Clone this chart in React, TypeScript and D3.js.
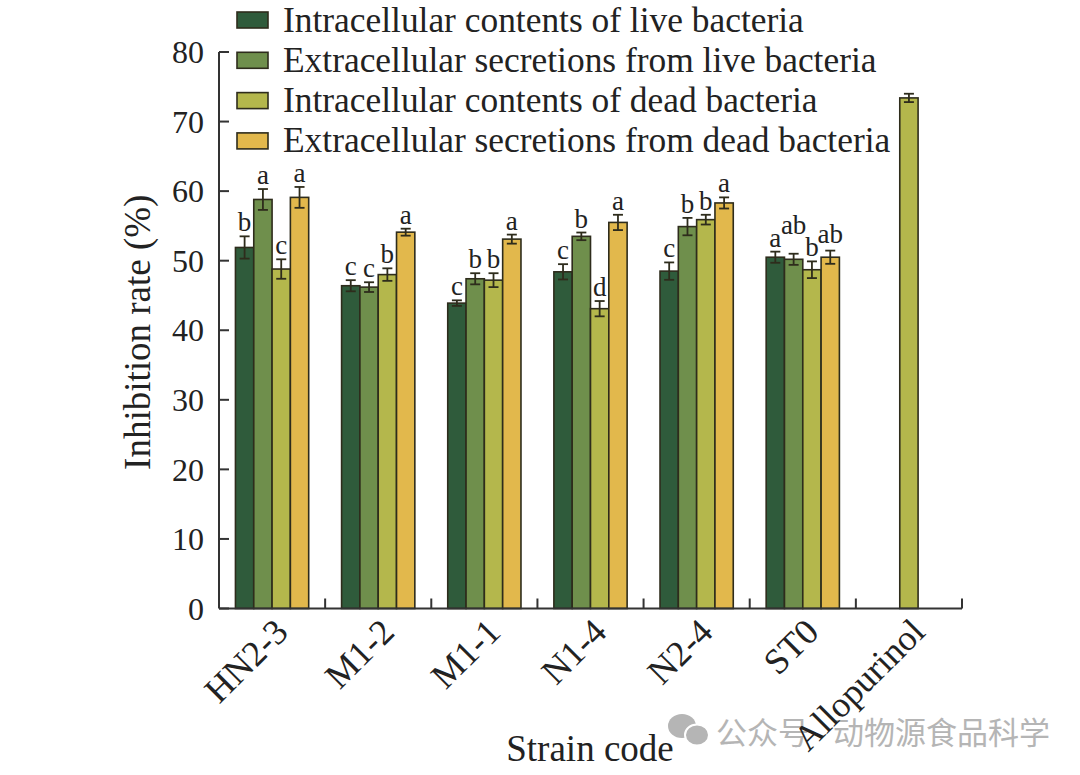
import React, { useEffect } from "react";
import * as d3 from "d3";

// Strain codes along the x axis
const categories = ["HN2-3", "M1-2", "M1-1", "N1-4", "N2-4", "ST0", "Allopurinol"];

const seriesNames = [
  "Intracellular contents of live bacteria",
  "Extracellular secretions from live bacteria",
  "Intracellular contents of dead bacteria",
  "Extracellular secretions from dead bacteria",
];

// Inhibition rate (%) per series, one value per strain (null = no bar)
const liveIntra = [51.9, 46.4, 43.9, 48.4, 48.5, 50.5, null];
const liveExtra = [58.8, 46.2, 47.4, 53.5, 54.9, 50.2, null];
const deadIntra = [48.8, 48.0, 47.2, 43.1, 55.9, 48.7, 73.4];
const deadExtra = [59.1, 54.1, 53.1, 55.5, 58.3, 50.5, null];

// Error bar half-widths
const liveIntraErr = [1.6, 0.8, 0.4, 1.1, 1.25, 0.8, null];
const liveExtraErr = [1.5, 0.7, 0.8, 0.55, 1.25, 0.8, null];
const deadIntraErr = [1.4, 0.9, 1.0, 1.1, 0.7, 1.2, 0.6];
const deadExtraErr = [1.5, 0.5, 0.65, 1.1, 0.8, 0.95, null];

// Significance letters
const liveIntraSig = ["b", "c", "c", "c", "c", "a", ""];
const liveExtraSig = ["a", "c", "b", "b", "b", "ab", ""];
const deadIntraSig = ["c", "b", "b", "d", "b", "b", ""];
const deadExtraSig = ["a", "a", "a", "a", "a", "ab", ""];

const yTicks = [0, 10, 20, 30, 40, 50, 60, 70, 80];

const colors = ["#2f5b3b", "#6f8f4c", "#b4b74c", "#e2b84c"];
const stroke = "#2e2c1c";
const textColor = "#222";
const font = "'Liberation Serif', 'DejaVu Serif', serif";

const values = [liveIntra, liveExtra, deadIntra, deadExtra];
const errors = [liveIntraErr, liveExtraErr, deadIntraErr, deadExtraErr];
const sigs = [liveIntraSig, liveExtraSig, deadIntraSig, deadExtraSig];

const sigSize = 27;

export default function App() {
  useEffect(() => {
    document.body.style.margin = "0";
  }, []);

  const width = 1080;
  const height = 775;
  const left = 219;
  const right = 962;
  const bottom = 608.5;
  const top = 52;

  const x = d3.scaleBand<string>()
    .domain(categories)
    .range([left, right])
    .paddingInner(0.31)
    .paddingOuter(0.155);

  const xInner = d3.scaleBand<number>()
    .domain(d3.range(seriesNames.length))
    .range([0, x.bandwidth()]);

  const y = d3.scaleLinear().domain([0, 80]).range([bottom, top]);

  const step = x.step();
  const boundaries = categories.map((_, i) => left + step * (i + 1));

  const bars: { x: number; w: number; v: number; e: number; s: string; c: string; ly: number }[] = [];
  categories.forEach((cat, i) => {
    const present = values.map((arr, k) => (arr[i] == null ? -1 : k)).filter(k => k >= 0);
    let prev: { x1: number; ly: number } | null = null;
    present.forEach(k => {
      const w = xInner.bandwidth();
      let bx = (x(cat) as number) + (xInner(k) as number);
      if (present.length === 1) bx = (x(cat) as number) + x.bandwidth() / 2 - w / 2;
      const v = values[k][i] as number;
      const e = (errors[k][i] as number) || 0;
      const s = sigs[k][i];
      // label sits just above the error bar, lifted if it would run into its left neighbour
      const cx = bx + w / 2;
      const lw = s.length * sigSize * 0.5;
      let ly = y(v + e) - 5;
      if (prev && s && cx - lw / 2 < prev.x1 && ly - sigSize * 0.48 < prev.ly) {
        ly = prev.ly - sigSize * 0.48;
      }
      if (s) prev = { x1: cx + lw / 2, ly };
      bars.push({ x: bx, w, v, e, s, c: colors[k], ly });
    });
  });

  const cjk = "'Noto Sans CJK SC', sans-serif";

  return (
    <svg width={width} height={height} style={{ display: "block", background: "#fff" }} fontFamily={font}>
      {/* watermark */}
      <g fill="#b5b5b5">
        <ellipse cx={682} cy={726} rx={14} ry={12} />
        <ellipse cx={697} cy={735} rx={12} ry={10.5} stroke="#fff" strokeWidth={2} />
        <text x={716} y={744} fontSize={31} fontFamily={cjk}>公众号</text>
        <text x={833} y={744} fontSize={31} fontFamily={cjk}>动物源食品科学</text>
      </g>

      {/* bars */}
      {bars.map((b, i) => (
        <rect key={"bar" + i} x={b.x} y={y(b.v)} width={b.w} height={y(0) - y(b.v)}
          fill={b.c} stroke={stroke} strokeWidth={1.6} />
      ))}

      {/* error bars */}
      {bars.map((b, i) => {
        const cx = b.x + b.w / 2;
        return (
          <g key={"err" + i} stroke={stroke} strokeWidth={1.8}>
            <line x1={cx} x2={cx} y1={y(b.v + b.e)} y2={y(b.v - b.e)} />
            <line x1={cx - 5} x2={cx + 5} y1={y(b.v + b.e)} y2={y(b.v + b.e)} />
            <line x1={cx - 5} x2={cx + 5} y1={y(b.v - b.e)} y2={y(b.v - b.e)} />
          </g>
        );
      })}

      {/* significance letters */}
      {bars.map((b, i) => (
        <text key={"sig" + i} x={b.x + b.w / 2} y={b.ly} textAnchor="middle"
          fontSize={sigSize} fill={textColor}>{b.s}</text>
      ))}

      {/* y axis */}
      <line x1={left} x2={left} y1={bottom} y2={top} stroke="#333" strokeWidth={2} />
      {yTicks.map(t => (
        <g key={"yt" + t}>
          <line x1={left} x2={left + 10} y1={y(t)} y2={y(t)} stroke="#333" strokeWidth={2} />
          <text x={204} y={y(t)} dy="0.35em" textAnchor="end" fontSize={32} fill={textColor}>{t}</text>
        </g>
      ))}

      {/* x axis */}
      <line x1={left} x2={right} y1={bottom} y2={bottom} stroke="#333" strokeWidth={2} />
      {boundaries.map((bx, i) => (
        <line key={"xt" + i} x1={bx} x2={bx} y1={bottom} y2={bottom - 10} stroke="#333" strokeWidth={2} />
      ))}
      {categories.map(cat => {
        const cx = (x(cat) as number) + x.bandwidth() / 2;
        return (
          <text key={"xl" + cat} transform={`translate(${cx + 18},${634}) rotate(-45)`}
            textAnchor="end" fontSize={36} fill={textColor}>{cat}</text>
        );
      })}

      {/* axis titles */}
      <text transform={`translate(150,${(top + bottom) / 2 + 2}) rotate(-90)`} textAnchor="middle"
        fontSize={37} fill={textColor}>Inhibition rate (%)</text>
      <text x={590} y={761} textAnchor="middle" fontSize={37} fill={textColor}>Strain code</text>

      {/* legend */}
      {seriesNames.map((name, i) => {
        const cy = 20 + i * 40.3;
        return (
          <g key={"lg" + i}>
            <rect x={237} y={cy - 8} width={31} height={16} fill={colors[i]} stroke={stroke} strokeWidth={1.6} />
            <text x={283} y={cy + 11.5} fontSize={35.4} fill={textColor}>{name}</text>
          </g>
        );
      })}
    </svg>
  );
}
